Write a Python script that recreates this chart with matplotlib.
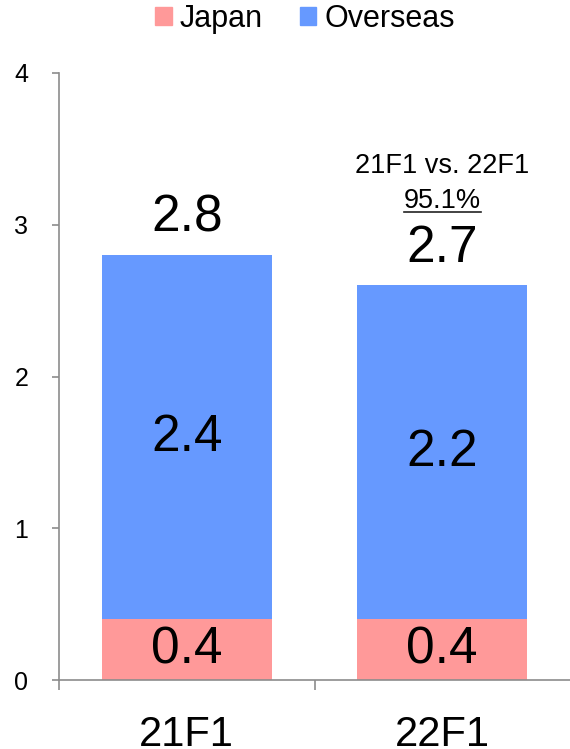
import matplotlib
matplotlib.use("Agg")
import matplotlib.pyplot as plt
from matplotlib.lines import Line2D
from matplotlib.patches import Patch

plt.rcParams['font.family'] = ['Liberation Sans', 'DejaVu Sans']

categories = ['21F1', '22F1']
japan = [0.4, 0.4]
overseas = [2.4, 2.2]
japan_labels = ['0.4', '0.4']
overseas_labels = ['2.4', '2.2']
total_labels = ['2.8', '2.7']
yticks = [0, 1, 2, 3, 4]
comparison_title = '21F1 vs. 22F1'
comparison_value = '95.1%'

c_japan = '#FF9999'
c_over = '#6699FF'
axis_c = '#8C8C8C'

fig = plt.figure(figsize=(5.7, 7.49), dpi=100)
ax = fig.add_axes([59/570, 69/749, 1 - 59/570, (680 - 73)/749])

x = list(range(len(categories)))
ax.bar(x, japan, width=0.665, color=c_japan, zorder=2)
ax.bar(x, overseas, width=0.665, bottom=japan, color=c_over, zorder=2)

ax.set_xlim(-0.5, 1.5)
ax.set_ylim(0, 4)
ax.set_yticks(yticks)
ax.set_yticklabels([str(t) for t in yticks], fontsize=18)
ax.set_xticks([-0.5, 0.5])
ax.set_xticklabels([])
ax.tick_params(axis='y', length=5, color=axis_c, width=1.2, pad=17)
ax.tick_params(axis='x', length=7, color=axis_c, width=1.2)
for s in ['top', 'right']:
    ax.spines[s].set_visible(False)
for s in ['left', 'bottom']:
    ax.spines[s].set_color(axis_c)
    ax.spines[s].set_linewidth(1.2)
ax.spines['bottom'].set_bounds(-0.5, 1.5)

for i, c in enumerate(categories):
    ax.text(i, -0.23, c, ha='center', va='top', fontsize=30, clip_on=False)
    ax.text(i, japan[i] / 2, japan_labels[i], ha='center', va='center', fontsize=37)
    ax.text(i, japan[i] + overseas[i] / 2, overseas_labels[i], ha='center', va='center', fontsize=37)
    top = japan[i] + overseas[i]
    ax.annotate(total_labels[i], (i, top), xytext=(0, 26.5), textcoords='offset points',
                ha='center', va='center', fontsize=37)

top2 = japan[1] + overseas[1]
ax.annotate(comparison_title, (1, top2), xytext=(0, 86), textcoords='offset points',
            ha='center', va='center', fontsize=19.5)
t = ax.annotate(comparison_value, (1, top2), xytext=(0, 61), textcoords='offset points',
                ha='center', va='center', fontsize=19.5)

fig.canvas.draw()
bb = t.get_window_extent()
W, H = fig.get_size_inches() * fig.dpi
y_line = bb.y0 + 2
fig.add_artist(Line2D([bb.x0 / W, bb.x1 / W], [y_line / H] * 2,
                      color='#222222', lw=1.2, transform=fig.transFigure))

handles = [Patch(color=c_japan, label='Japan'), Patch(color=c_over, label='Overseas')]
fig.legend(handles=handles, loc='center', bbox_to_anchor=(305/570, 1 - 19/749), ncol=2,
           frameon=False, fontsize=22, handlelength=0.55, handleheight=0.55,
           handletextpad=0.25, columnspacing=1.2)

fig.savefig('out.png', dpi=100)
